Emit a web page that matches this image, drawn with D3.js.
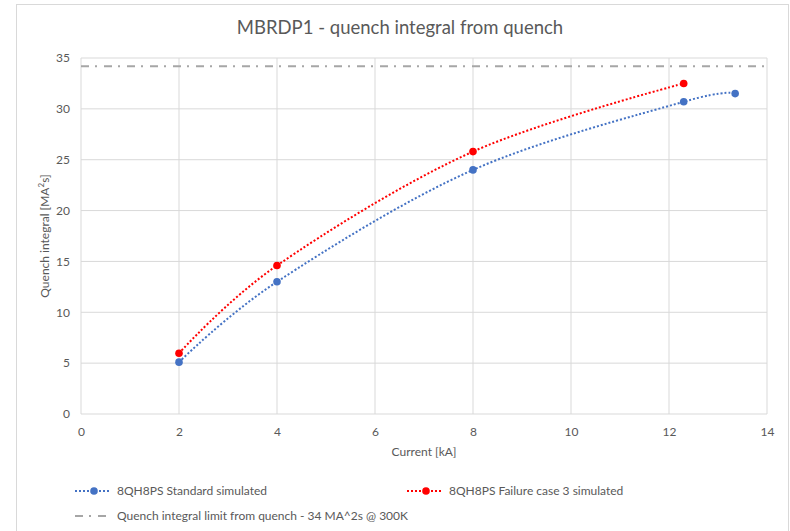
<!DOCTYPE html>
<html>
<head>
<meta charset="utf-8">
<script src="https://cdn.jsdelivr.net/npm/d3@7"></script>
<style>
  html, body { margin: 0; padding: 0; background: #fff; }
  svg { display: block; }
  text { font-family: Lato, "Open Sans", sans-serif; fill: #595959; }
</style>
</head>
<body>
<svg id="chart" width="790" height="531"></svg>
<script>
// Quench integral vs. current for the MBRDP1 magnet
const xTicks = [0, 2, 4, 6, 8, 10, 12, 14];
const yTicks = [0, 5, 10, 15, 20, 25, 30, 35];

const standardCurrent = [2, 4, 8, 12.3, 13.35];
const standardQI      = [5.1, 13.0, 24.0, 30.7, 31.5];

const failureCurrent  = [2, 4, 8, 12.3];
const failureQI       = [5.97, 14.6, 25.8, 32.5];

const limitQI = 34.2;

const seriesNames = [
  "8QH8PS Standard simulated",
  "8QH8PS Failure case 3 simulated",
  "Quench integral limit from quench - 34 MA^2s @ 300K"
];
const seriesColors = ["#4472C4", "#FF0000", "#A6A6A6"];

const svg = d3.select("#chart");
const W = 790, H = 531;

// chart frame
svg.append("rect")
  .attr("x", 16.5).attr("y", 4.5)
  .attr("width", 772).attr("height", 540)
  .attr("fill", "#fff").attr("stroke", "#D9D9D9").attr("stroke-width", 1);

const plot = { left: 81, right: 767, top: 58, bottom: 414 };

const x = d3.scaleLinear().domain([0, 14]).range([plot.left, plot.right]);
const y = d3.scaleLinear().domain([0, 35]).range([plot.bottom, plot.top]);

// gridlines
const grid = svg.append("g");
grid.selectAll("line.v").data(xTicks).join("line")
  .attr("x1", d => x(d)).attr("x2", d => x(d))
  .attr("y1", plot.top).attr("y2", plot.bottom)
  .attr("stroke", "#D9D9D9").attr("stroke-width", 1);
grid.selectAll("line.h").data(yTicks).join("line")
  .attr("x1", plot.left).attr("x2", plot.right)
  .attr("y1", d => y(d)).attr("y2", d => y(d))
  .attr("stroke", "#D9D9D9").attr("stroke-width", 1);

// axes (labels only, lines provided by the grid)
const xAxis = svg.append("g")
  .attr("transform", `translate(0,${plot.bottom})`)
  .call(d3.axisBottom(x).tickValues(xTicks).tickSize(0).tickPadding(13));
xAxis.select(".domain").remove();
xAxis.selectAll("text").attr("font-size", 12).attr("fill", "#595959")
  .attr("font-family", "Lato, 'Open Sans', sans-serif");

const yAxis = svg.append("g")
  .attr("transform", `translate(${plot.left},0)`)
  .call(d3.axisLeft(y).tickValues(yTicks).tickSize(0).tickPadding(11));
yAxis.select(".domain").remove();
yAxis.selectAll("text").attr("font-size", 12).attr("fill", "#595959")
  .attr("font-family", "Lato, 'Open Sans', sans-serif");

// limit line
svg.append("line")
  .attr("x1", plot.left).attr("x2", plot.right)
  .attr("y1", y(limitQI)).attr("y2", y(limitQI))
  .attr("stroke", seriesColors[2]).attr("stroke-width", 2)
  .attr("stroke-dasharray", "8,6,2,7");

// smoothed dotted series
const line = d3.line()
  .x(d => x(d[0])).y(d => y(d[1]))
  .curve(d3.curveCardinal.tension(0));

const series = [
  { pts: d3.zip(standardCurrent, standardQI), color: seriesColors[0] },
  { pts: d3.zip(failureCurrent, failureQI), color: seriesColors[1] }
];

series.forEach(s => {
  svg.append("path")
    .attr("d", line(s.pts))
    .attr("fill", "none")
    .attr("stroke", s.color)
    .attr("stroke-width", 2)
    .attr("stroke-dasharray", "2,2");
  svg.append("g").selectAll("circle").data(s.pts).join("circle")
    .attr("cx", d => x(d[0])).attr("cy", d => y(d[1]))
    .attr("r", 3.8).attr("fill", s.color);
});

// title
svg.append("text")
  .attr("x", (plot.left + plot.right) / 2 - 24).attr("y", 34)
  .attr("text-anchor", "middle")
  .attr("font-size", 18.5)
  .text("MBRDP1 - quench integral from quench");

// axis titles
svg.append("text")
  .attr("x", (plot.left + plot.right) / 2).attr("y", 456)
  .attr("text-anchor", "middle").attr("font-size", 12)
  .text("Current [kA]");

const yt = svg.append("text")
  .attr("transform", `translate(49,${(plot.top + plot.bottom) / 2}) rotate(-90)`)
  .attr("text-anchor", "middle").attr("font-size", 12);
yt.append("tspan").text("Quench integral [MA");
yt.append("tspan").attr("font-size", 8).attr("dy", -5).text("2");
yt.append("tspan").attr("dy", 5).text("s]");

// legend
const legend = svg.append("g");
const legendItems = [
  { x: 75, y: 491, kind: "dot", color: seriesColors[0], name: seriesNames[0] },
  { x: 407, y: 491, kind: "dot", color: seriesColors[1], name: seriesNames[1] },
  { x: 75, y: 516, kind: "dashdot", color: seriesColors[2], name: seriesNames[2] }
];
legendItems.forEach(it => {
  if (it.kind === "dot") {
    legend.append("line")
      .attr("x1", it.x).attr("x2", it.x + 35)
      .attr("y1", it.y).attr("y2", it.y)
      .attr("stroke", it.color).attr("stroke-width", 2)
      .attr("stroke-dasharray", "2,2");
    legend.append("circle")
      .attr("cx", it.x + 19).attr("cy", it.y).attr("r", 3.8)
      .attr("fill", it.color);
  } else {
    legend.append("line")
      .attr("x1", it.x).attr("x2", it.x + 35)
      .attr("y1", it.y).attr("y2", it.y)
      .attr("stroke", it.color).attr("stroke-width", 2)
      .attr("stroke-dasharray", "8,6,2,7");
  }
  legend.append("text")
    .attr("x", it.x + 42).attr("y", it.y + 4)
    .attr("font-size", 12)
    .text(it.name);
});
</script>
</body>
</html>
